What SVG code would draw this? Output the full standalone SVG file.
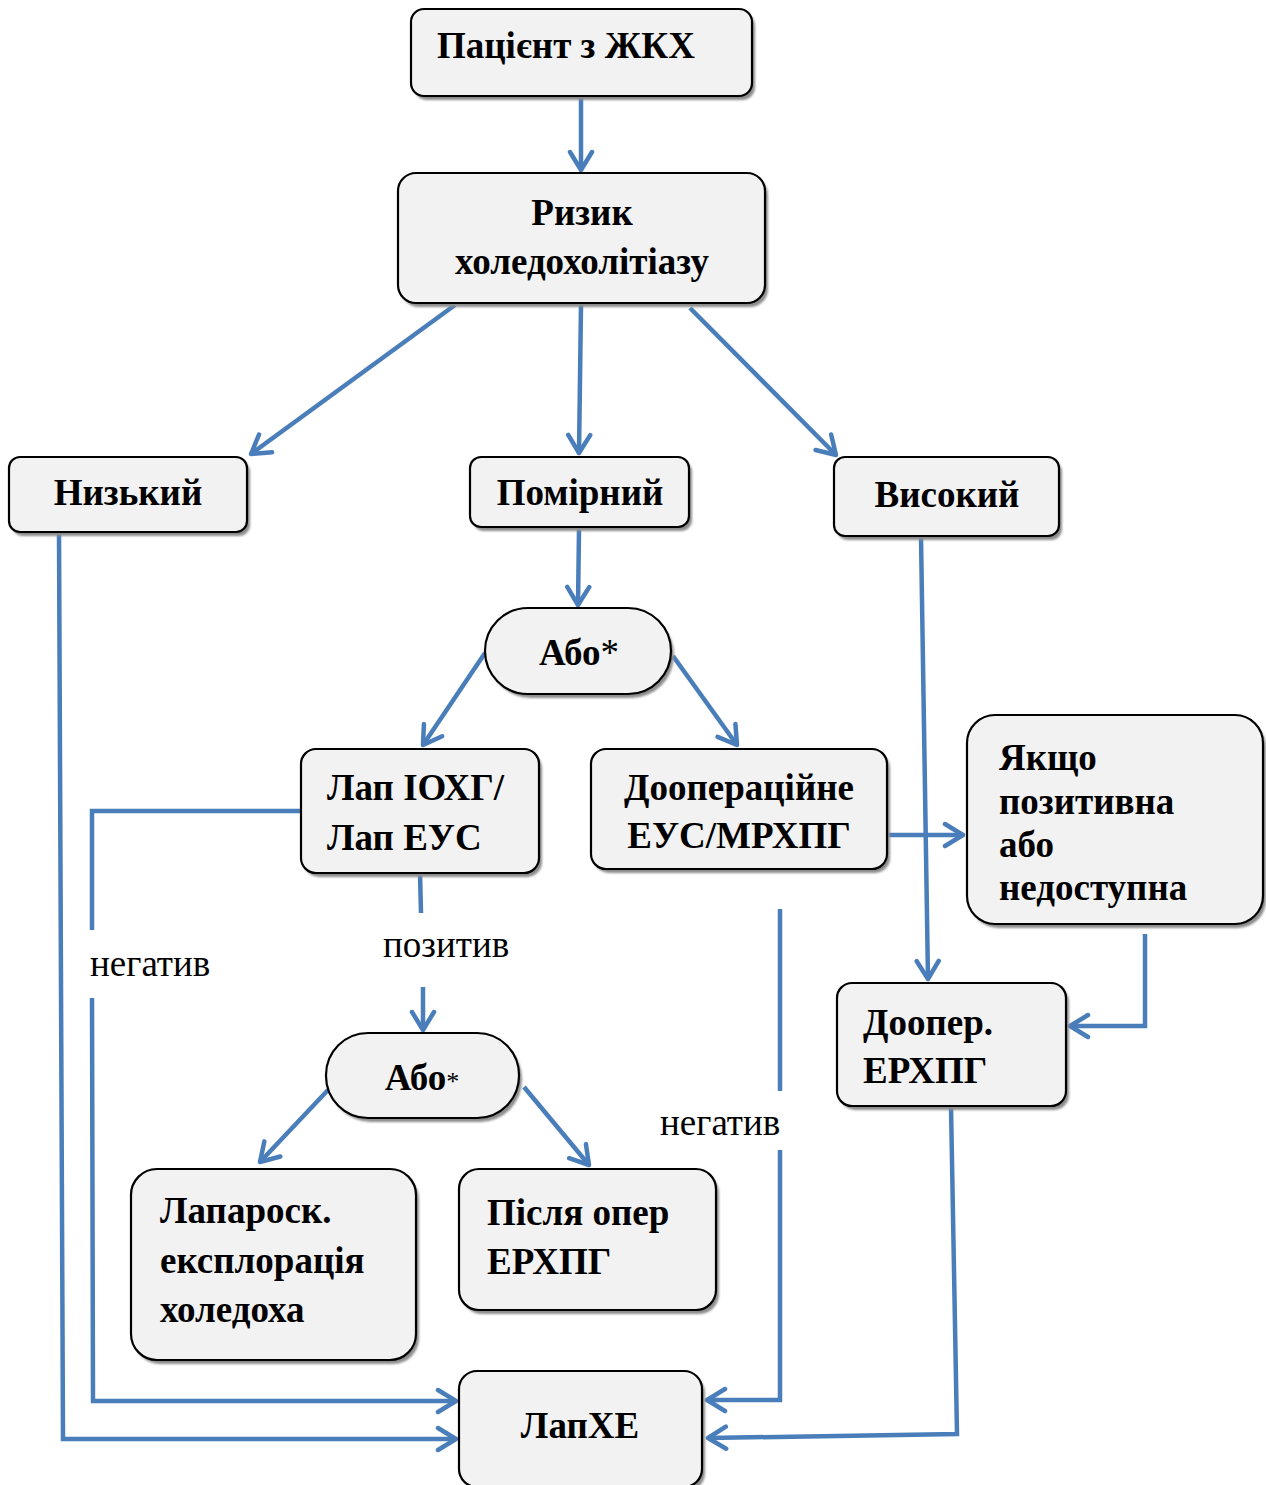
<svg xmlns="http://www.w3.org/2000/svg" width="1266" height="1485" viewBox="0 0 1266 1485">
<defs>
<marker id="ah" viewBox="-22 -14 26 28" refX="0" refY="0" markerWidth="26" markerHeight="28" markerUnits="userSpaceOnUse" orient="auto">
<path d="M-18,-11 L0,0 L-18,11" fill="none" stroke="#4a7ebb" stroke-width="4.5" stroke-linecap="round" stroke-linejoin="round"/>
</marker>
<filter id="sh" x="-10%" y="-10%" width="130%" height="130%">
<feGaussianBlur stdDeviation="1"/>
</filter>
</defs>
<style>
.box{fill:#f2f2f2;stroke:#000;stroke-width:2.2}
.shd{fill:#8c8c8c;filter:url(#sh)}
.t{font-family:"Liberation Serif","Times New Roman",serif;font-weight:bold;font-size:37px;fill:#000}
.c{text-anchor:middle}
.lbl{font-family:"Liberation Serif","Times New Roman",serif;font-size:37px;fill:#000}
.ast{font-weight:normal}
.ln{fill:none;stroke:#4a7ebb;stroke-width:4.5}
.ar{marker-end:url(#ah)}
</style>
<rect width="1266" height="1485" fill="#fff"/>

<g id="connectors">
<line class="ln ar" x1="581" y1="96" x2="581" y2="170"/>
<line class="ln ar" x1="455" y1="305" x2="251" y2="454"/>
<line class="ln ar" x1="581" y1="305" x2="579" y2="453"/>
<line class="ln ar" x1="690" y1="308" x2="836" y2="455"/>
<line class="ln ar" x1="579" y1="530" x2="578" y2="605"/>
<line class="ln ar" x1="485" y1="653" x2="423" y2="745"/>
<line class="ln ar" x1="673" y1="656" x2="737" y2="745"/>
<polyline class="ln ar" points="59,532 63,1439 456,1439"/>
<polyline class="ln" points="301,811 92,811 92,930"/>
<polyline class="ln ar" points="92,998 93,1401 456,1401"/>
<line class="ln" x1="420" y1="873" x2="421" y2="913"/>
<line class="ln ar" x1="423" y1="987" x2="423" y2="1030"/>
<line class="ln ar" x1="328" y1="1090" x2="260" y2="1162"/>
<line class="ln ar" x1="524" y1="1087" x2="589" y2="1165"/>
<line class="ln ar" x1="888" y1="835" x2="963" y2="835"/>
<line class="ln ar" x1="921" y1="537" x2="928" y2="979"/>
<line class="ln" x1="780" y1="909" x2="780" y2="1091"/>
<polyline class="ln ar" points="780,1150 780,1400 707,1400"/>
<polyline class="ln ar" points="1145,934 1145,1026 1070,1026"/>
<polyline class="ln ar" points="951,1106 957,1434 708,1438"/>
</g>

<g id="labels">
<text class="lbl" x="90" y="976">негатив</text>
<text class="lbl" x="383" y="957">позитив</text>
<text class="lbl" x="660" y="1135">негатив</text>
</g>

<g id="n1">
<rect class="shd" x="414" y="13" width="341" height="87" rx="13"/>
<rect class="box" x="411" y="9" width="341" height="87" rx="13"/>
<text class="t" x="437" y="58">Пацієнт з ЖКХ</text>
</g>
<g id="n2">
<rect class="shd" x="401" y="177" width="367" height="130" rx="18"/>
<rect class="box" x="398" y="173" width="367" height="130" rx="18"/>
<text class="t c" x="582" y="225">Ризик</text>
<text class="t c" x="582" y="274">холедохолітіазу</text>
</g>
<g id="n3">
<rect class="shd" x="12" y="461" width="238" height="75" rx="11"/>
<rect class="box" x="9" y="457" width="238" height="75" rx="11"/>
<text class="t c" x="128" y="505">Низький</text>
</g>
<g id="n4">
<rect class="shd" x="473" y="461" width="219" height="70" rx="11"/>
<rect class="box" x="470" y="457" width="219" height="70" rx="11"/>
<text class="t c" x="580" y="505">Помірний</text>
</g>
<g id="n5">
<rect class="shd" x="837" y="461" width="225" height="79" rx="11"/>
<rect class="box" x="834" y="457" width="225" height="79" rx="11"/>
<text class="t c" x="947" y="507">Високий</text>
</g>
<g id="n6">
<rect class="shd" x="488" y="612" width="186" height="86" rx="43"/>
<rect class="box" x="485" y="608" width="186" height="86" rx="43"/>
<text class="t c" x="579" y="665">Або<tspan class="ast">*</tspan></text>
</g>
<g id="n7">
<rect class="shd" x="304" y="753" width="238" height="124" rx="15"/>
<rect class="box" x="301" y="749" width="238" height="124" rx="15"/>
<text class="t" x="327" y="800">Лап ІОХГ/</text>
<text class="t" x="327" y="850">Лап ЕУС</text>
</g>
<g id="n8">
<rect class="shd" x="594" y="753" width="296" height="120" rx="15"/>
<rect class="box" x="591" y="749" width="296" height="120" rx="15"/>
<text class="t c" x="739" y="800">Доопераційне</text>
<text class="t c" x="739" y="848">ЕУС/МРХПГ</text>
</g>
<g id="n9">
<rect class="shd" x="970" y="719" width="296" height="209" rx="28"/>
<rect class="box" x="967" y="715" width="296" height="209" rx="28"/>
<text class="t" x="999" y="770">Якщо</text>
<text class="t" x="999" y="814">позитивна</text>
<text class="t" x="999" y="857">або</text>
<text class="t" x="999" y="900">недоступна</text>
</g>
<g id="n10">
<rect class="shd" x="840" y="987" width="229" height="123" rx="15"/>
<rect class="box" x="837" y="983" width="229" height="123" rx="15"/>
<text class="t" x="863" y="1035">Доопер.</text>
<text class="t" x="863" y="1083">ЕРХПГ</text>
</g>
<g id="n11">
<rect class="shd" x="329" y="1037" width="193" height="85" rx="42"/>
<rect class="box" x="326" y="1033" width="193" height="85" rx="42"/>
<text class="t c" x="422" y="1090">Або<tspan class="ast" font-size="26">*</tspan></text>
</g>
<g id="n12">
<rect class="shd" x="134" y="1173" width="285" height="191" rx="26"/>
<rect class="box" x="131" y="1169" width="285" height="191" rx="26"/>
<text class="t" x="160" y="1223">Лапароск.</text>
<text class="t" x="160" y="1273">експлорація</text>
<text class="t" x="160" y="1322">холедоха</text>
</g>
<g id="n13">
<rect class="shd" x="462" y="1173" width="257" height="141" rx="20"/>
<rect class="box" x="459" y="1169" width="257" height="141" rx="20"/>
<text class="t" x="487" y="1225">Після опер</text>
<text class="t" x="487" y="1274">ЕРХПГ</text>
</g>
<g id="n14">
<rect class="shd" x="462" y="1375" width="243" height="116" rx="18"/>
<rect class="box" x="459" y="1371" width="243" height="116" rx="18"/>
<text class="t c" x="580" y="1438">ЛапХЕ</text>
</g>
</svg>
